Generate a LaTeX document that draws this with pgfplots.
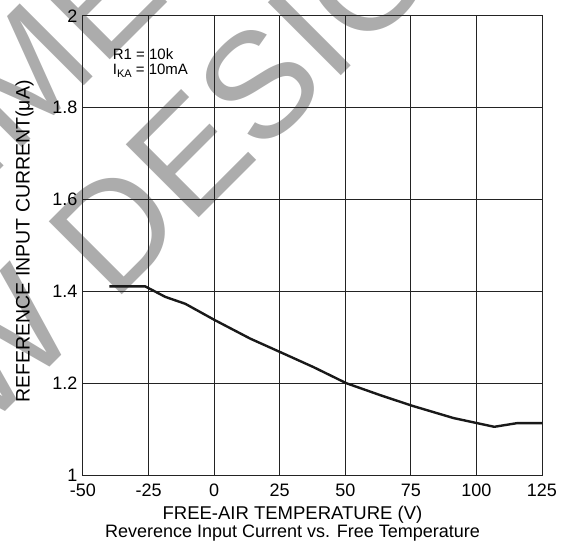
\documentclass[border=0pt]{standalone}
\usepackage{fontspec}
\setmainfont{Liberation Sans}
\usepackage{pgfplots}
\pgfplotsset{compat=1.18}
\definecolor{wm}{RGB}{172,172,172}
\definecolor{gridc}{RGB}{35,35,35}
\begin{document}
\begin{tikzpicture}
\useasboundingbox (-83pt,-75pt) rectangle (488pt,475pt);
\begin{scope}
\clip (-83pt,-75pt) rectangle (488pt,475pt);
\node[rotate=45, anchor=base west, inner sep=0pt, text=wm, font=\fontsize{150}{150}\selectfont] at (30.5pt,171.5pt) {\llap{FOR NEW\ }DESIGNS};
\node[rotate=45, anchor=base west, inner sep=0pt, text=wm, font=\fontsize{150}{150}\selectfont] at (18.6pt,406.6pt) {\llap{NOT RECOMM}ENDED};
\end{scope}
\begin{axis}[
  at={(0pt,0pt)}, anchor=south west,
  scale only axis, width=459pt, height=459pt,
  xmin=-50, xmax=125, ymin=1, ymax=2,
  xtick={-50,-25,0,25,50,75,100,125},
  xticklabels={-50,-25,0,25,50,75,100,125},
  ytick={1,1.2,1.4,1.6,1.8,2},
  yticklabels={1,1.2,1.4,1.6,1.8,2},
  grid=major,
  major grid style={line width=1pt, gridc},
  axis line style={line width=1pt, gridc},
  major tick length=0pt,
  tick style={draw=none},
  xticklabel style={anchor=base, yshift=-21.7pt, inner sep=0pt, font=\fontsize{18}{18}\selectfont},
  yticklabel style={anchor=east, xshift=-5.5pt, inner sep=0pt, font=\fontsize{18}{18}\selectfont},
  xlabel={FREE-AIR TEMPERATURE (V)},
  xlabel style={at={(axis description cs:0.4564,-0.098)}, anchor=base, inner sep=0pt, font=\fontsize{18.5}{18.5}\selectfont},
  ylabel={REFERENCE INPUT CURRENT(μA)},
  ylabel style={at={(axis description cs:-0.1275,0.509)}, anchor=center, inner sep=0pt, font=\fontsize{19.5}{19.5}\selectfont},
  title={Reverence Input Current vs. Free Temperature},
  title style={at={(axis description cs:0.4564,-0.1488)}, anchor=base, inner sep=0pt, font=\fontsize{18}{18}\selectfont},
]
\addplot[line width=2.4pt, color=black!90, line join=round] coordinates {
(-39.9,1.411) (-26.3,1.411) (-18.6,1.388) (-11.0,1.373) (-5.3,1.355)
(0.4,1.337) (13.8,1.297) (25.5,1.267) (37.9,1.235) (50.4,1.200)
(63.3,1.174) (75.4,1.151) (91.3,1.124) (106.8,1.105) (115.5,1.113) (125,1.113)
};
\node[anchor=base west, inner sep=0pt, font=\fontsize{15}{15}\selectfont] at (axis cs:-38.7,1.9057) {R1 = 10k};
\node[anchor=base west, inner sep=0pt, font=\fontsize{15}{15}\selectfont] at (axis cs:-38.7,1.8736) {I\raisebox{-3pt}{\fontsize{11}{11}\selectfont KA} = 10mA};
\end{axis}
\end{tikzpicture}
\end{document}
